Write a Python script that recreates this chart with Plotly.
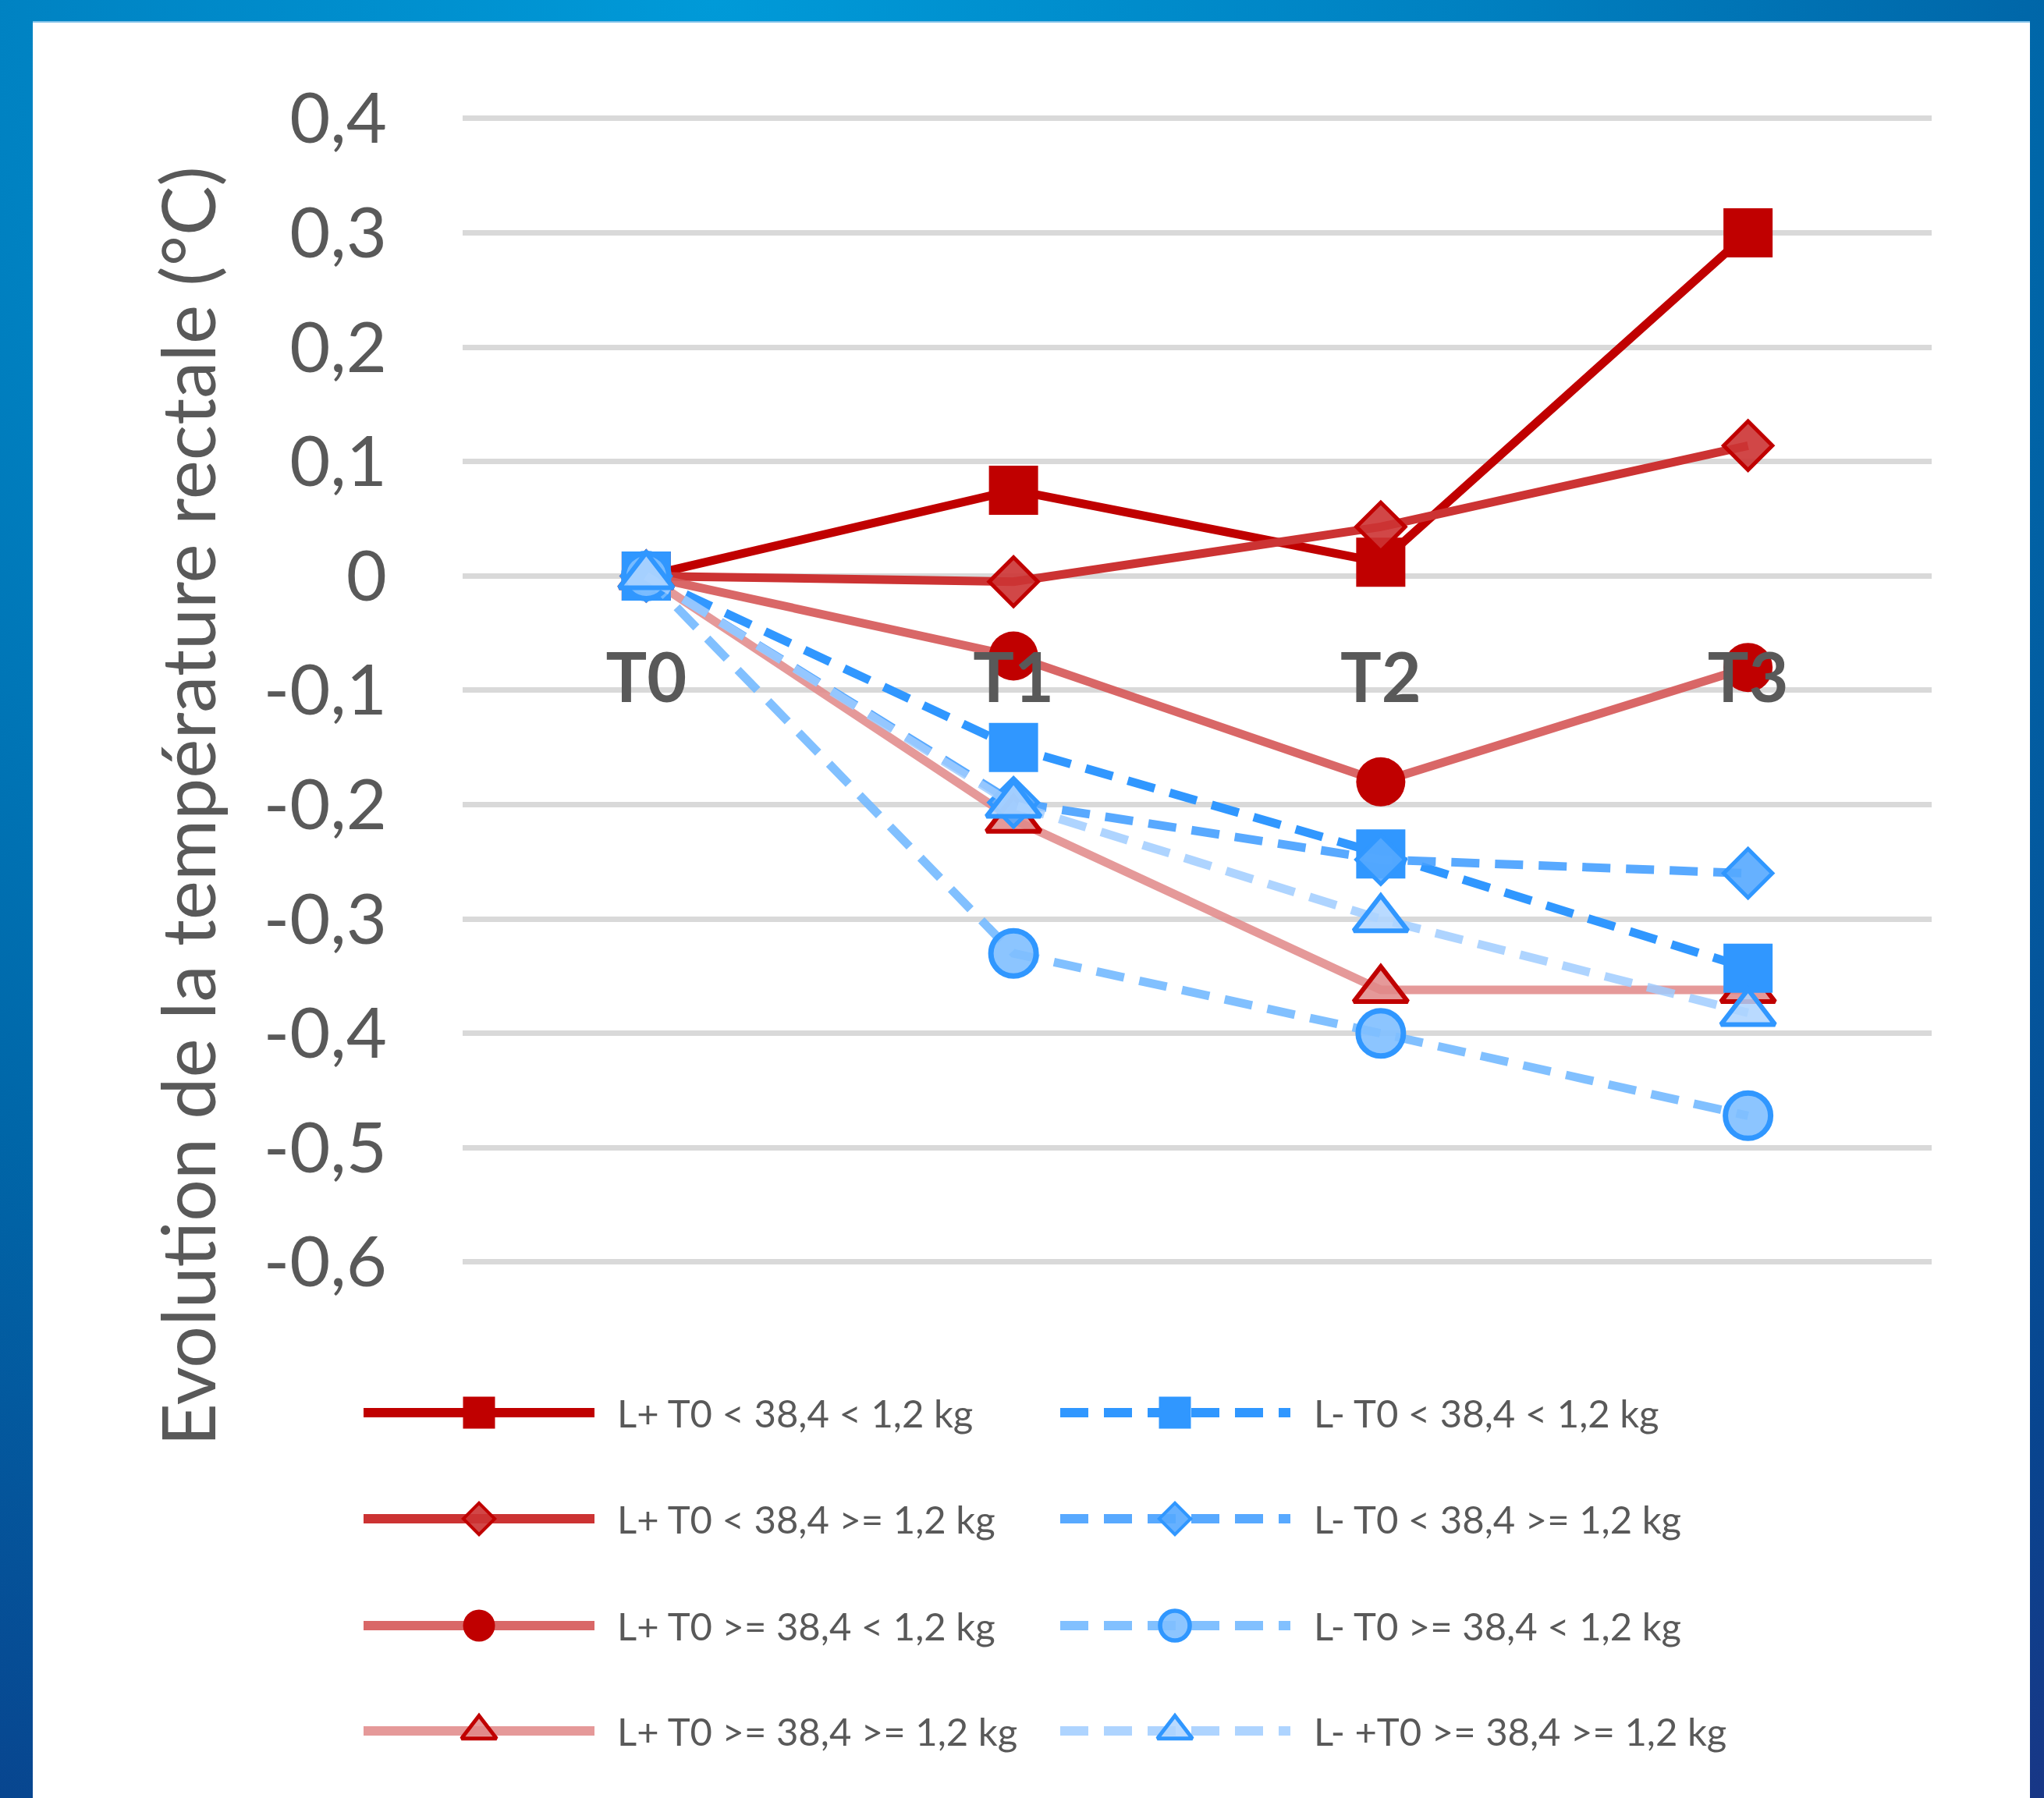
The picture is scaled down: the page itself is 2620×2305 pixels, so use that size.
import base64
import html
import plotly.graph_objects as go

# ---------------- data ----------------
CATEGORIES = ["T0", "T1", "T2", "T3"]

SERIES_NAMES = [
    "L+ T0 < 38,4 < 1,2 kg",
    "L+ T0 < 38,4 >= 1,2 kg",
    "L+ T0 >= 38,4 < 1,2 kg",
    "L+ T0 >= 38,4 >= 1,2 kg",
    "L- T0 < 38,4 < 1,2 kg",
    "L- T0 < 38,4 >= 1,2 kg",
    "L- T0 >= 38,4 < 1,2 kg",
    "L- +T0 >= 38,4 >= 1,2 kg",
]

L_PLUS_1 = [0, 0.075, 0.012, 0.300]
L_PLUS_2 = [0, -0.005, 0.043, 0.114]
L_PLUS_3 = [0, -0.070, -0.180, -0.080]
L_PLUS_4 = [0, -0.213, -0.362, -0.362]
L_MINUS_1 = [0, -0.150, -0.243, -0.343]
L_MINUS_2 = [0, -0.198, -0.248, -0.260]
L_MINUS_3 = [0, -0.330, -0.400, -0.472]
L_MINUS_4 = [0, -0.200, -0.300, -0.382]

SERIES_VALUES = [L_PLUS_1, L_PLUS_2, L_PLUS_3, L_PLUS_4,
                 L_MINUS_1, L_MINUS_2, L_MINUS_3, L_MINUS_4]

Y_TICK_VALUES = [0.4, 0.3, 0.2, 0.1, 0, -0.1, -0.2, -0.3, -0.4, -0.5, -0.6]
Y_TICK_LABELS = ["0,4", "0,3", "0,2", "0,1", "0", "-0,1", "-0,2", "-0,3",
                 "-0,4", "-0,5", "-0,6"]
Y_TITLE = "Evolution de la température rectale (°C)"

# ---------------- styles ----------------
DARK_RED = "#C00000"
BLUE = "#3097FF"
STYLES = [
    dict(line=DARK_RED, dash="solid", symbol="square", fill=DARK_RED, edge=DARK_RED, ew=0, ms=63),
    dict(line="#CC3333", dash="solid", symbol="diamond", fill="rgba(204,51,51,0.9)", edge=DARK_RED, ew=5, ms=48),
    dict(line="rgba(214,90,90,0.92)", dash="solid", symbol="circle", fill=DARK_RED, edge=DARK_RED, ew=0, ms=63),
    dict(line="rgba(225,135,135,0.85)", dash="solid", symbol="triangle-up", fill="rgba(225,135,135,0.85)", edge=DARK_RED, ew=6, ms=60),
    dict(line=BLUE, dash="36px,20px", symbol="square", fill=BLUE, edge=BLUE, ew=0, ms=63),
    dict(line="rgba(70,160,255,0.9)", dash="36px,20px", symbol="diamond", fill="rgba(85,169,255,0.9)", edge=BLUE, ew=5, ms=48),
    dict(line="rgba(115,185,255,0.9)", dash="36px,20px", symbol="circle", fill="rgba(128,191,255,0.9)", edge=BLUE, ew=7, ms=58),
    dict(line="rgba(160,205,255,0.85)", dash="36px,20px", symbol="triangle-up", fill="rgba(173,212,255,0.85)", edge=BLUE, ew=6, ms=60),
]

W, H = 2620, 2305
PLOT_L, PLOT_R, PLOT_T, PLOT_B = 593, 2476, 152, 1618
Y_MIN, Y_MAX = -0.6, 0.4
Y_PAD = 0.004  # tiny pad so gridlines at both range ends are drawn
TEXT = "#595959"
FONT = "Lato"
LINE_W = 11

# ---------------- background (gradient frame + white panel) ----------------
svg = f'''<svg xmlns="http://www.w3.org/2000/svg" width="{W}" height="{H}" viewBox="0 0 {W} {H}" preserveAspectRatio="none">
<defs><radialGradient id="g" gradientUnits="userSpaceOnUse" cx="917" cy="0" r="2900">
<stop offset="0" stop-color="#009AD8"/><stop offset="0.32" stop-color="#0082C2"/>
<stop offset="0.59" stop-color="#0066A8"/><stop offset="0.86" stop-color="#08458F"/>
<stop offset="1" stop-color="#1A3585"/></radialGradient></defs>
<rect width="{W}" height="{H}" fill="url(#g)"/>
<rect x="42" y="28" width="2560" height="{H}" fill="#FFFFFF"/>
<rect x="42" y="27" width="2560" height="2" fill="#7FC0E8"/>
</svg>'''
bg_src = "data:image/svg+xml;base64," + base64.b64encode(svg.encode("utf-8")).decode("ascii")

fig = go.Figure()

# ---------------- data traces ----------------
for name, vals, st in zip(SERIES_NAMES, SERIES_VALUES, STYLES):
    fig.add_trace(go.Scatter(
        x=CATEGORIES, y=vals, name=name, mode="lines+markers",
        line=dict(color=st["line"], width=LINE_W, dash=st["dash"]),
        marker=dict(symbol=st["symbol"], size=st["ms"], color=st["fill"],
                    line=dict(color=st["edge"], width=st["ew"])),
        cliponaxis=False, showlegend=False, xaxis="x", yaxis="y",
    ))

# ---------------- custom legend (pixel canvas on x2/y2) ----------------
LEG_ROWS = [1811, 1947, 2084, 2219]
LEG_COLS = [dict(x0=466, x1=762, xm=614, tx=789), dict(x0=1359, x1=1654, xm=1506, tx=1682)]
annotations = []
for i, (name, st) in enumerate(zip(SERIES_NAMES, STYLES)):
    col = LEG_COLS[i // 4]
    ry = LEG_ROWS[i % 4]
    fig.add_trace(go.Scatter(
        x=[col["x0"], col["x1"]], y=[ry, ry], mode="lines",
        line=dict(color=st["line"], width=12, dash=st["dash"]),
        showlegend=False, xaxis="x2", yaxis="y2", hoverinfo="skip"))
    fig.add_trace(go.Scatter(
        x=[col["xm"]], y=[ry], mode="markers",
        marker=dict(symbol=st["symbol"], size=int(st["ms"] * 0.66), color=st["fill"],
                    line=dict(color=st["edge"], width=max(st["ew"] * 0.8, 0))),
        showlegend=False, xaxis="x2", yaxis="y2", hoverinfo="skip"))
    annotations.append(dict(
        x=col["tx"], y=ry, xref="x2", yref="y2", xanchor="left", yanchor="middle",
        text=html.escape(name), showarrow=False,
        font=dict(family=FONT, size=49, color=TEXT)))

# y-axis title
annotations.append(dict(
    x=239 / W, y=1 - 1034 / H, xref="paper", yref="paper", textangle=-90,
    text=Y_TITLE, showarrow=False, xanchor="center", yanchor="middle",
    font=dict(family=FONT, size=95, color=TEXT)))

px_per_unit = (PLOT_B - PLOT_T) / (Y_MAX - Y_MIN)
top_px = PLOT_T - Y_PAD * px_per_unit
bot_px = PLOT_B + Y_PAD * px_per_unit
ydom = [(H - bot_px) / H, (H - top_px) / H]
y_range = [Y_MIN - Y_PAD, Y_MAX + Y_PAD]
zero_pos = ydom[0] + (0 - y_range[0]) / (y_range[1] - y_range[0]) * (ydom[1] - ydom[0])

fig.update_layout(
    width=W, height=H,
    margin=dict(l=0, r=0, t=0, b=0),
    paper_bgcolor="#FFFFFF", plot_bgcolor="rgba(0,0,0,0)",
    images=[dict(source=bg_src, xref="paper", yref="paper", x=0, y=1,
                 sizex=1, sizey=1, sizing="stretch", xanchor="left",
                 yanchor="top", layer="below")],
    xaxis=dict(domain=[PLOT_L / W, PLOT_R / W], type="category",
               range=[-0.5, 3.5], anchor="free", position=zero_pos,
               showgrid=False, zeroline=False, showline=False,
               ticks="outside", ticklen=55, tickcolor="rgba(0,0,0,0)",
               tickfont=dict(family=FONT, size=88, color=TEXT, weight="bold"),
               automargin=False, fixedrange=True),
    yaxis=dict(domain=ydom, range=y_range, tickvals=Y_TICK_VALUES,
               ticktext=Y_TICK_LABELS, showgrid=True, gridcolor="#D9D9D9",
               gridwidth=7, zeroline=False, showline=False, ticks="outside",
               ticklen=78, tickcolor="rgba(0,0,0,0)",
               tickfont=dict(family=FONT, size=90, color=TEXT),
               automargin=False, fixedrange=True),
    xaxis2=dict(domain=[0, 1], range=[0, W], anchor="y2", visible=False,
                fixedrange=True),
    yaxis2=dict(domain=[0, 1], range=[H, 0], anchor="x2", visible=False,
                fixedrange=True),
    annotations=annotations,
    showlegend=False,
)

fig.write_html("out.html", config={"displayModeBar": False},
               post_script="document.body.style.margin='0';")
